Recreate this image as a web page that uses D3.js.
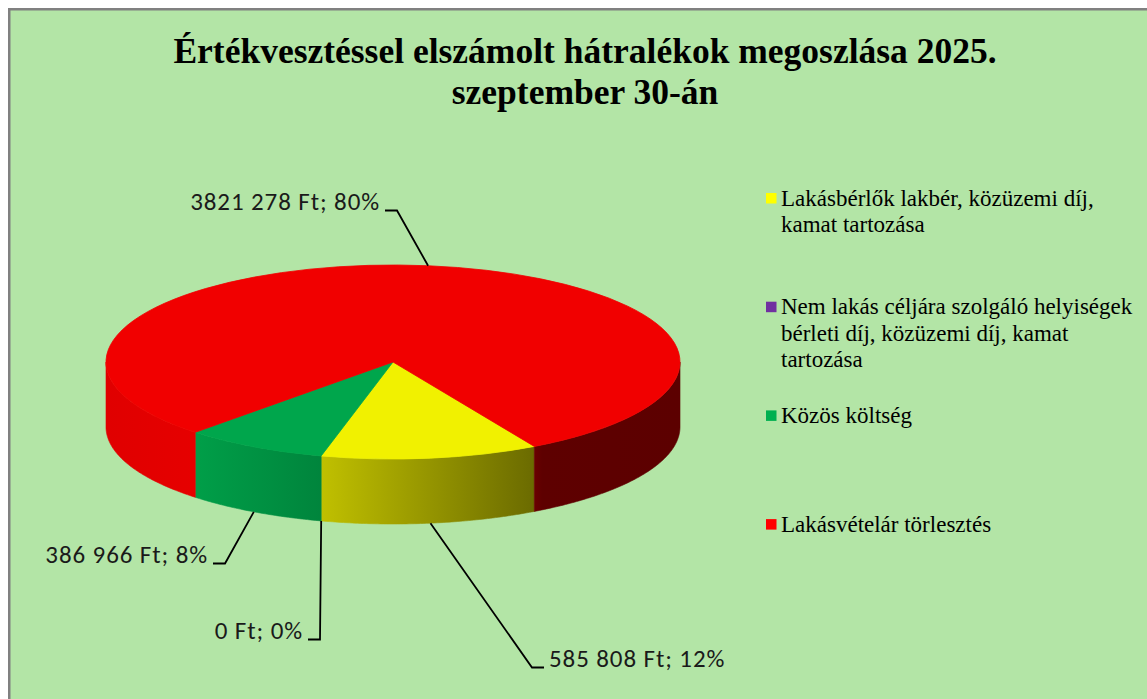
<!DOCTYPE html>
<html lang="hu">
<head>
<meta charset="utf-8">
<title>Értékvesztéssel elszámolt hátralékok</title>
<script src="https://cdn.jsdelivr.net/npm/d3@7"></script>
<style>
    html, body { margin: 0; padding: 0; background: #ffffff; }
    #chart { width: 1147px; height: 699px; }
</style>
</head>
<body>
<div id="chart"></div>
<script>
// Adatok
const titleLines = ["Értékvesztéssel elszámolt hátralékok megoszlása 2025.", "szeptember 30-án"];
const categories = [
    "Lakásbérlők lakbér, közüzemi díj, kamat tartozása",
    "Nem lakás céljára szolgáló helyiségek bérleti díj, közüzemi díj, kamat tartozása",
    "Közös költség",
    "Lakásvételár törlesztés"
];
// legend text wrapped the same way as in the original
const legendLines = [
    ["Lakásbérlők lakbér, közüzemi díj,", "kamat tartozása"],
    ["Nem lakás céljára szolgáló helyiségek", "bérleti díj, közüzemi díj, kamat", "tartozása"],
    ["Közös költség"],
    ["Lakásvételár törlesztés"]
];
const values = [585808, 0, 386966, 3821278];
const colors = ["#FFFF00", "#7030A0", "#00B050", "#FF0000"];

// label placement (text anchor point of every data label)
const labelPos = [
    { x: 549, y: 667, anchor: "start" },
    { x: 303, y: 639, anchor: "end" },
    { x: 208, y: 563, anchor: "end" },
    { x: 380, y: 210, anchor: "end" }
];

class Pie3D {
    constructor(containerId) {
        this.container = document.getElementById(containerId);
        this.width = 1147;
        this.height = 699;
        this.cx = 393;
        this.cy = 362;
        this.rx = 287;
        this.ry = 97;
        this.depth = 65;
        this.firstSliceAngle = 150.5; // fok, 12 órától az óramutató irányába
        this.bg = "#B3E5A6";
        this.svg = null;
    }

    draw() {
        this.createSvg();
        this.drawFrame();
        this.drawTitle();
        this.computeArcs();
        this.defineGradients();
        this.drawWalls();
        this.drawTops();
        this.drawLabels();
        this.drawLegend();
    }

    createSvg() {
        this.svg = d3.select(this.container).append("svg")
            .attr("width", this.width)
            .attr("height", this.height);
    }

    drawFrame() {
        this.svg.append("rect")
            .attr("x", 9.25).attr("y", 9.25)
            .attr("width", this.width + 20).attr("height", this.height + 20)
            .attr("fill", this.bg)
            .attr("stroke", "#808080")
            .attr("stroke-width", 2.5);
    }

    drawTitle() {
        this.svg.append("g").selectAll("text")
            .data(titleLines)
            .enter().append("text")
            .attr("x", 585)
            .attr("y", (d, i) => 63 + i * 41)
            .attr("text-anchor", "middle")
            .style("font-family", "'Liberation Serif', 'Times New Roman', serif")
            .style("font-weight", "bold")
            .style("font-size", "35.5px")
            .attr("fill", "#000")
            .text(d => d);
    }

    computeArcs() {
        const rad = Math.PI / 180;
        this.total = d3.sum(values);
        this.arcs = d3.pie()
            .sort(null)
            .value(d => d)
            .startAngle(this.firstSliceAngle * rad)
            .endAngle((this.firstSliceAngle + 360) * rad)(values);
    }

    point(a, dz) {
        return [this.cx + this.rx * Math.sin(a), this.cy - this.ry * Math.cos(a) + dz];
    }

    shade(color, k) {
        const c = d3.rgb(color);
        return d3.rgb(c.r * k, c.g * k, c.b * k).formatHex();
    }

    defineGradients() {
        // side lighting: bright on the left, dark on the right
        const stops = [[0, 0.88], [0.16, 0.9], [0.38, 0.75], [0.745, 0.42], [0.76, 0.37], [1, 0.36]];
        const defs = this.svg.append("defs");
        colors.forEach((col, i) => {
            const g = defs.append("linearGradient")
                .attr("id", "side" + i)
                .attr("gradientUnits", "userSpaceOnUse")
                .attr("x1", this.cx - this.rx).attr("x2", this.cx + this.rx)
                .attr("y1", 0).attr("y2", 0);
            stops.forEach(s => {
                g.append("stop")
                    .attr("offset", s[0])
                    .attr("stop-color", this.shade(col, s[1]));
            });
        });
    }

    drawWalls() {
        const front = [[Math.PI / 2, Math.PI * 1.5], [Math.PI * 2.5, Math.PI * 3.5]];
        const line = d3.line();
        const walls = [];
        this.arcs.forEach((arc, i) => {
            front.forEach(f => {
                const a0 = Math.max(arc.startAngle, f[0]);
                const a1 = Math.min(arc.endAngle, f[1]);
                if (a1 - a0 < 1e-6) return;
                const n = Math.max(2, Math.ceil((a1 - a0) / 0.01));
                const top = d3.range(n + 1).map(k => this.point(a0 + (a1 - a0) * k / n, 0));
                const bottom = top.map(p => [p[0], p[1] + this.depth]).reverse();
                walls.push({ i: i, d: line(top.concat(bottom)) + "Z" });
            });
        });

        this.svg.append("g").selectAll("path")
            .data(walls)
            .enter().append("path")
            .attr("d", d => d.d)
            .attr("fill", d => `url(#side${d.i})`)
            .attr("stroke", d => `url(#side${d.i})`)
            .attr("stroke-width", 0.6);
    }

    drawTops() {
        const arcGen = d3.arc().innerRadius(0).outerRadius(this.rx);
        this.svg.append("g")
            .attr("transform", `translate(${this.cx},${this.cy}) scale(1,${this.ry / this.rx})`)
            .selectAll("path")
            .data(this.arcs.filter(a => a.value > 0))
            .enter().append("path")
            .attr("d", arcGen)
            .attr("fill", d => this.shade(colors[d.index], 0.945))
            .attr("stroke", d => this.shade(colors[d.index], 0.945))
            .attr("stroke-width", 0.8)
            .attr("vector-effect", "non-scaling-stroke");
    }

    drawLabels() {
        // magyar számformátum, szóköz ezres elválasztóval (az eredetin "3821 278")
        const locale = d3.formatLocale({ decimal: ",", thousands: " ", grouping: [3, 4], currency: ["", ""] });
        const num = locale.format(",d");
        const pct = d3.format(".0%");
        const g = this.svg.append("g");

        this.arcs.forEach((arc, i) => {
            const mid = (arc.startAngle + arc.endAngle) / 2;
            const isFront = Math.cos(mid) < 0;
            const anchor = this.point(mid, isFront ? this.depth : 0);
            const lp = labelPos[i];
            const dir = lp.anchor === "start" ? -1 : 1;
            const yl = lp.y + 0.5;
            const pts = [anchor, [lp.x + dir * 17, yl], [lp.x + dir * 5, yl]];

            g.append("path")
                .attr("d", d3.line()(pts))
                .attr("fill", "none")
                .attr("stroke", "#000")
                .attr("stroke-width", 1.8);

            g.append("text")
                .attr("x", lp.x)
                .attr("y", lp.y)
                .attr("text-anchor", lp.anchor)
                .style("font-family", "Carlito, Calibri, Lato, sans-serif")
                .style("font-size", "25px")
                .style("letter-spacing", "0.9px")
                .attr("fill", "#1a1a1a")
                .text(`${num(values[i])} Ft; ${pct(values[i] / this.total)}`);
        });
    }

    drawLegend() {
        const item = this.svg.append("g")
            .selectAll("g")
            .data(categories)
            .enter().append("g")
            .attr("transform", (d, i) => `translate(766,${205.5 + i * 108.7})`);

        item.append("rect")
            .attr("x", 0).attr("y", -12.5)
            .attr("width", 10.5).attr("height", 10.5)
            .attr("fill", (d, i) => colors[i]);

        item.append("text")
            .style("font-family", "'Liberation Serif', 'Times New Roman', serif")
            .style("font-size", "23px")
            .attr("fill", "#000")
            .selectAll("tspan")
            .data((d, i) => legendLines[i])
            .enter().append("tspan")
            .attr("x", 15)
            .attr("y", (d, j) => j * 26.5)
            .text(d => d);
    }
}

document.addEventListener('DOMContentLoaded', function() {
    const chart = new Pie3D('chart');
    chart.draw();
});
</script>
</body>
</html>
